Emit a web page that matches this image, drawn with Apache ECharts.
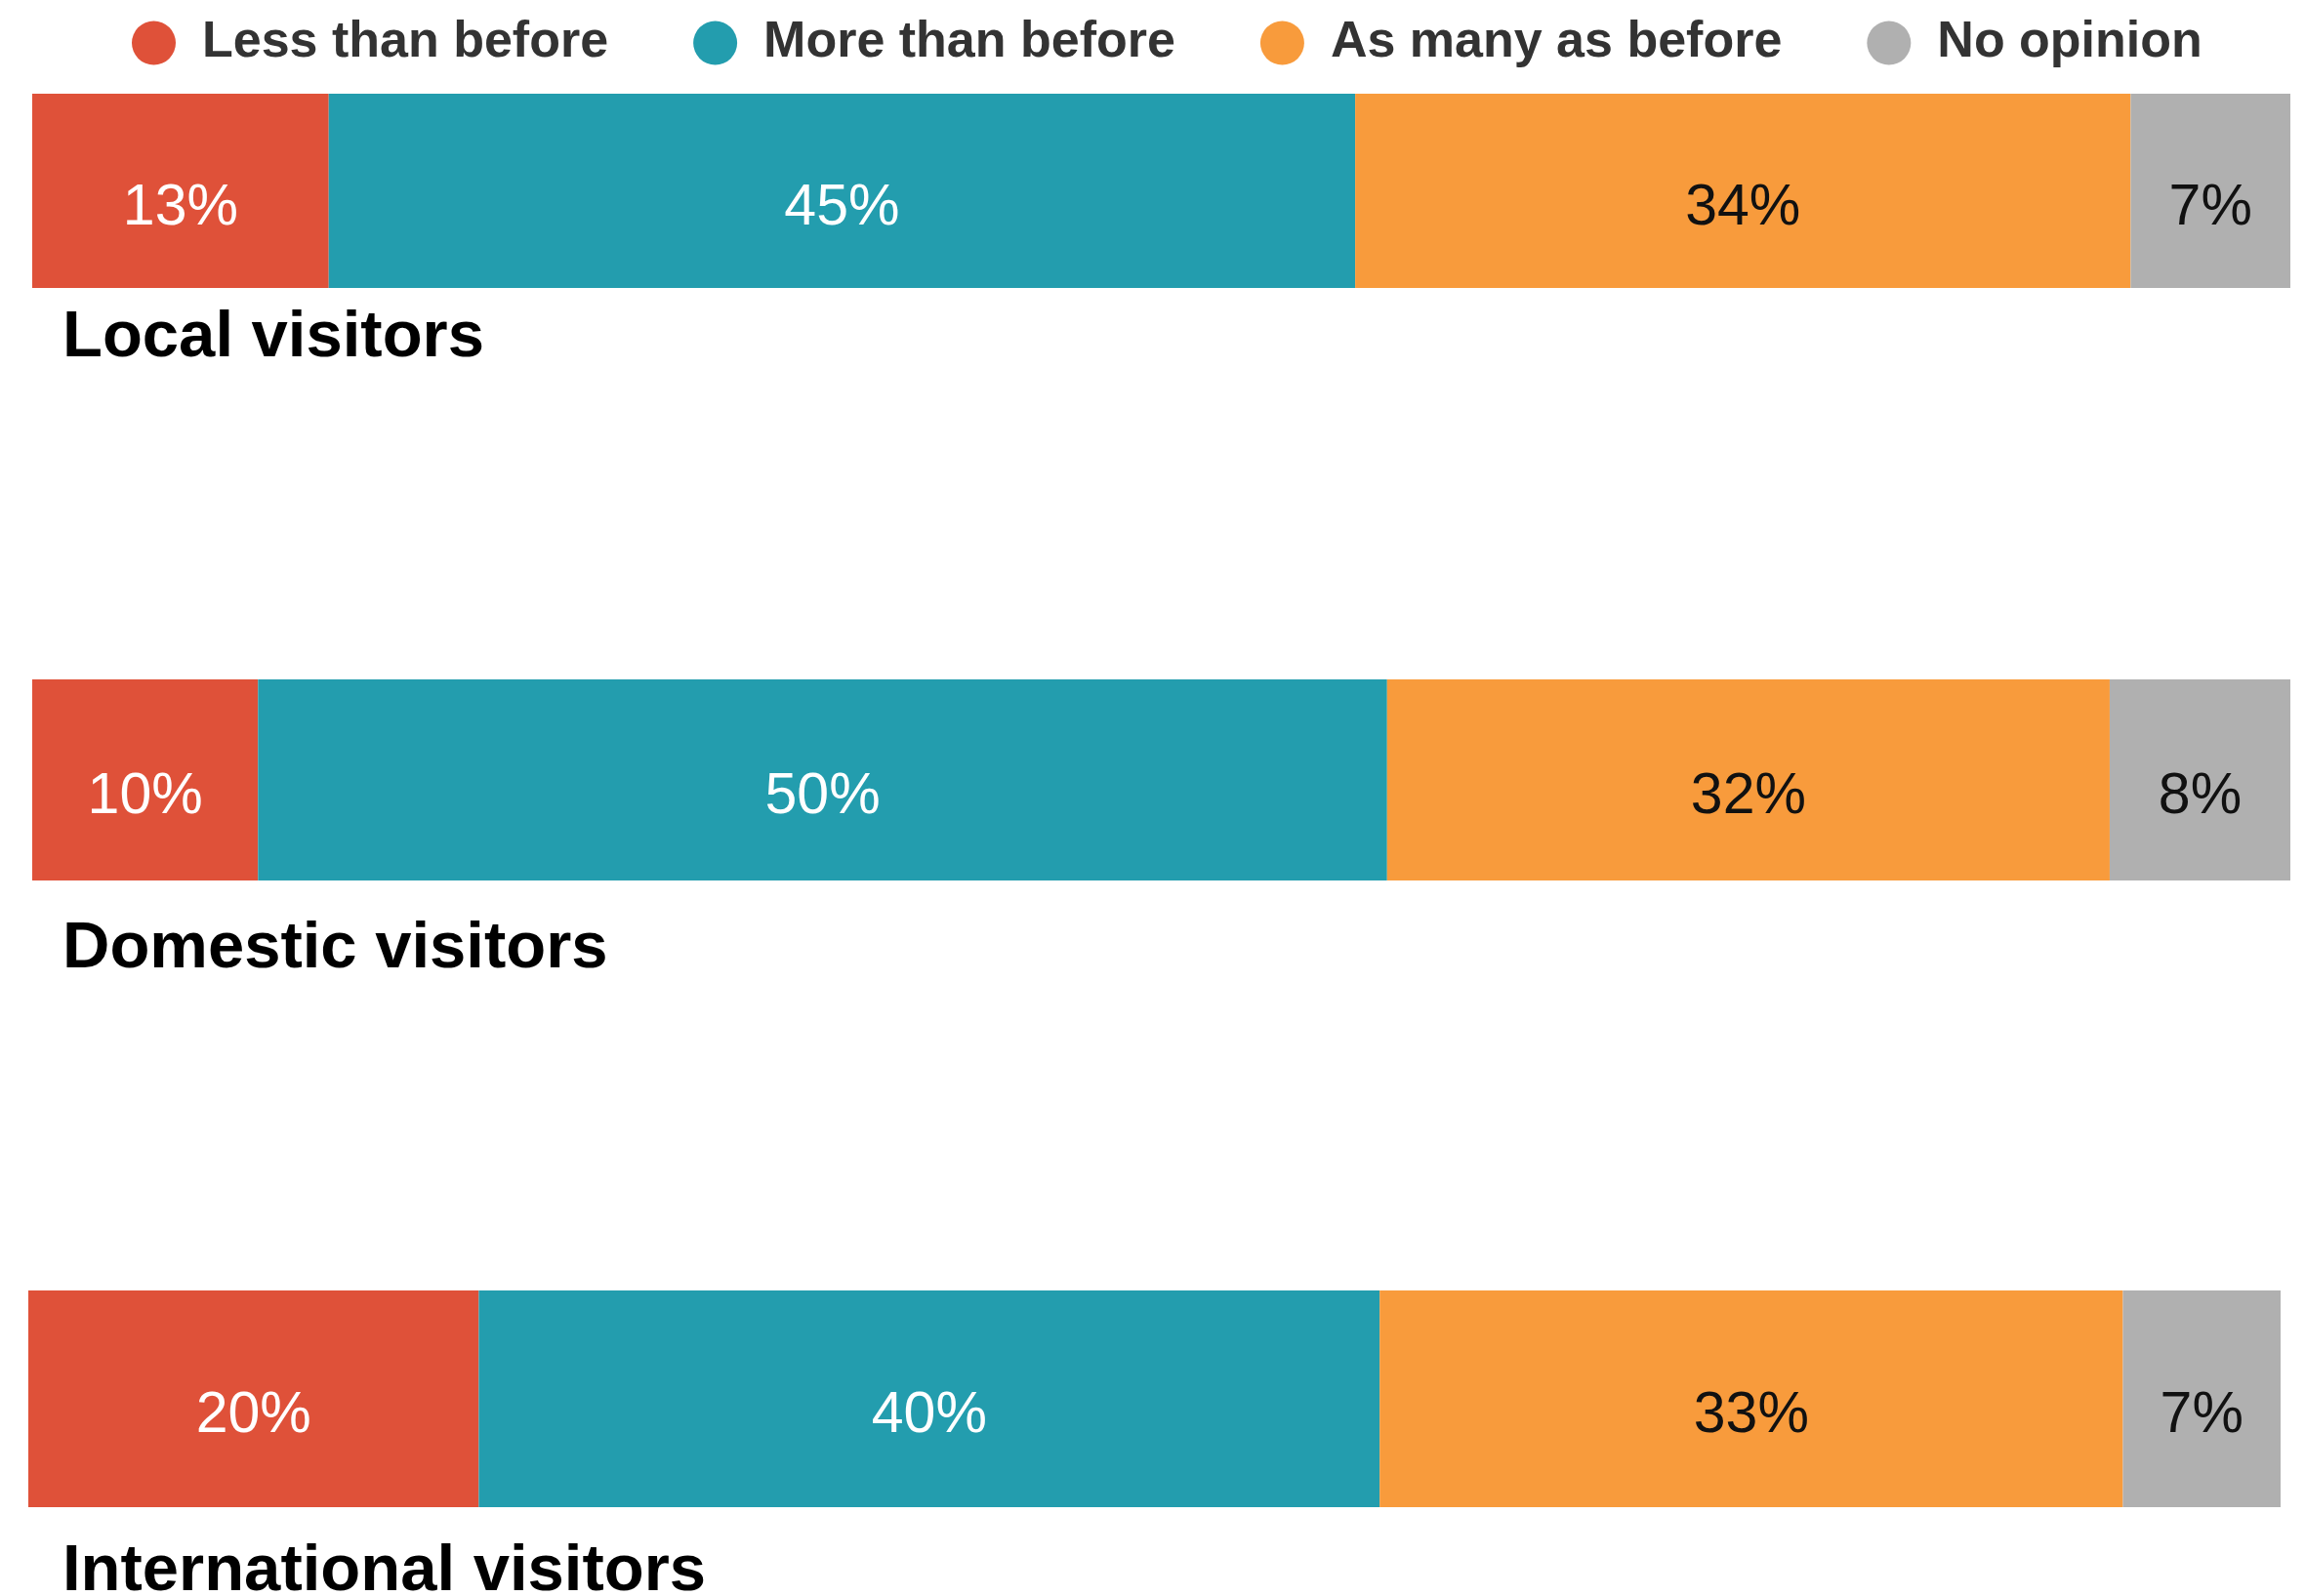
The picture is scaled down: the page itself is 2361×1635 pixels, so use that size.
<!DOCTYPE html>
<html>
<head>
<meta charset="utf-8">
<title>Visitors compared with before</title>
<script src="https://cdn.jsdelivr.net/npm/echarts@6/dist/echarts.min.js"></script>
<style>
  html, body { margin: 0; padding: 0; background: #ffffff; }
  #chart { width: 2361px; height: 1635px; }
</style>
</head>
<body>
<div id="chart"></div>
<script>
// Survey answers, one stacked bar per visitor group (percent)
const categories = ['Local visitors', 'Domestic visitors', 'International visitors'];
const seriesNames = ['Less than before', 'More than before', 'As many as before', 'No opinion'];
const lessThanBefore = [13, 10, 20];
const moreThanBefore = [45, 50, 40];
const asManyAsBefore = [34, 32, 33];
const noOpinion = [7, 8, 7];

const seriesValues = [lessThanBefore, moreThanBefore, asManyAsBefore, noOpinion];
const colors = ['#DF5139', '#239DAE', '#F89B3C', '#B0B0B0'];
const labelColors = ['#ffffff', '#ffffff', '#111111', '#111111'];
const FONT = '"Liberation Sans", Arial, Helvetica, sans-serif';

// Each group gets its own strip
const grids = [
  { left: 33, right: 15, top: 96, height: 199 },
  { left: 33, right: 15, top: 696, height: 206 },
  { left: 29, right: 25, top: 1322, height: 222 }
];
const titleTops = [313, 939, 1577];

const option = {
  backgroundColor: '#ffffff',
  animation: false,
  legend: {
    data: seriesNames,
    left: 135,
    top: 18,
    padding: 0,
    icon: 'circle',
    itemWidth: 89,
    itemHeight: 45,
    itemGap: 87,
    textStyle: {
      fontFamily: FONT,
      fontWeight: 'bold',
      fontSize: 52,
      color: '#333333',
      lineHeight: 45,
      padding: [6, 0, 0, 0]
    }
  },
  title: categories.map((c, i) => ({
    text: c,
    left: 64,
    top: titleTops[i],
    padding: 0,
    textStyle: { fontFamily: FONT, fontWeight: 'bold', fontSize: 67, color: '#000000' }
  })),
  grid: grids,
  xAxis: categories.map((c, i) => ({
    type: 'value',
    gridIndex: i,
    min: 0,
    max: seriesValues.reduce((s, arr) => s + arr[i], 0),
    show: false
  })),
  yAxis: categories.map((c, i) => ({
    type: 'category',
    gridIndex: i,
    data: [c],
    show: false
  })),
  series: []
};

categories.forEach((c, i) => {
  seriesNames.forEach((name, k) => {
    option.series.push({
      name: name,
      type: 'bar',
      stack: 'row' + i,
      xAxisIndex: i,
      yAxisIndex: i,
      barWidth: '100%',
      data: [seriesValues[k][i]],
      itemStyle: { color: colors[k] },
      label: {
        show: true,
        position: 'inside',
        formatter: '{c}%',
        offset: [0, 18],
        fontFamily: FONT,
        fontSize: 59,
        color: labelColors[k]
      },
      emphasis: { disabled: true }
    });
  });
});

const chart = echarts.init(document.getElementById('chart'), null, { renderer: 'canvas' });
chart.setOption(option);
</script>
</body>
</html>
